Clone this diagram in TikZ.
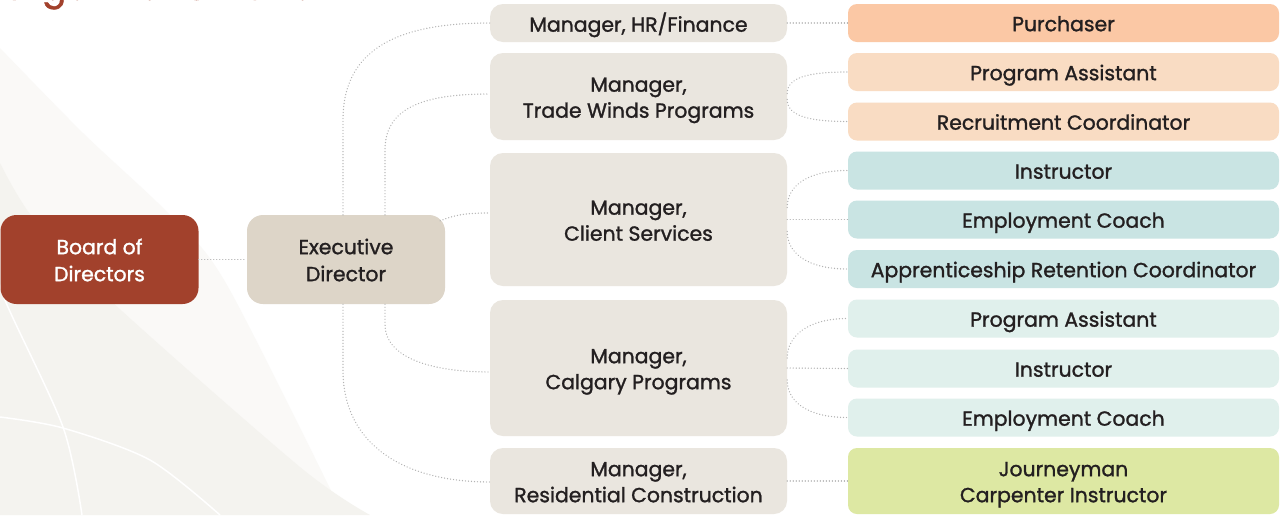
\documentclass[tikz,border=0pt]{standalone}
\usepackage{fontspec}
\setmainfont{Poppins}[FakeBold=1.3]
\usetikzlibrary{calc}
\definecolor{boardc}{HTML}{A2412C}
\definecolor{execc}{HTML}{DDD5C8}
\definecolor{mgrc}{HTML}{EAE6DF}
\definecolor{purc}{HTML}{FBC8A5}
\definecolor{orlc}{HTML}{F9DCC3}
\definecolor{tealc}{HTML}{C9E4E3}
\definecolor{teallc}{HTML}{E0F0EC}
\definecolor{greenc}{HTML}{DDE8A3}
\definecolor{txtc}{HTML}{231F20}
\definecolor{connc}{HTML}{B3B3B3}
\definecolor{bglight}{HTML}{FAF9F7}
\definecolor{bgdark}{HTML}{F4F3EF}
\newcommand{\bt}[1]{\raisebox{-3pt}[\height][\depth]{\begin{tabular}{@{}c@{}}#1\end{tabular}}}
\tikzset{
  boxfont/.style={font=\fontsize{20.4}{26}\selectfont},
  basebox/.style={inner sep=0pt, text=txtc, boxfont},
  bigbox/.style={basebox, rounded corners=16pt, minimum width=198pt, minimum height=89pt},
  mgrbox/.style={basebox, fill=mgrc, rounded corners=13pt, minimum width=297pt},
  rbox/.style={basebox, rounded corners=9pt, minimum width=431pt, minimum height=38pt},
  conn/.style={draw=connc, line width=1.4pt, dash pattern=on 0.01pt off 3pt, line cap=round},
  bgline/.style={draw=white, line width=1.5pt}
}
\begin{document}
\begin{tikzpicture}[x=1pt,y=-1pt]
\useasboundingbox (0,0) rectangle (1280,515);
\begin{scope}
\clip (0,0) rectangle (1280,515);
\fill[white] (0,0) rectangle (1280,515);
\fill[bglight] plot[smooth] coordinates {(0,48) (83,133) (170,215) (227,285) (343,515)} -- (0,515) -- cycle;
\fill[bgdark] plot[smooth] coordinates {(0,163) (33,218) (110,300) (300,467) (370,515)} -- (0,515) -- cycle;
\draw[bgline] plot[smooth] coordinates {(-8,250) (5,300) (63,427) (82,515)};
\draw[bgline] plot[smooth] coordinates {(0,417) (63,428) (150,460) (220,515)};
\node[anchor=base west, inner sep=0pt, text=boardc, font=\fontsize{36}{36}\selectfont] (title) at (0,-0.3) {Organization Chart};
\end{scope}

% left nodes
\node[bigbox, fill=boardc, text=white] (board) at (99.5,259.5) {\bt{Board of\\[1pt]Directors}};
\node[bigbox, fill=execc] (exec) at (346,259.5) {\bt{Executive\\[1pt]Director}};

% managers
\node[mgrbox, minimum height=38pt] (hr) at (638.5,23) {\bt{Manager, HR/Finance}};
\node[mgrbox, minimum height=87pt] (tw) at (638.5,96.5) {\bt{Manager,\\Trade Winds Programs}};
\node[mgrbox, minimum height=133pt] (cs) at (638.5,219.5) {\bt{Manager,\\Client Services}};
\node[mgrbox, minimum height=136pt] (cal) at (638.5,368) {\bt{Manager,\\Calgary Programs}};
\node[mgrbox, minimum height=66pt] (res) at (638.5,481) {\bt{Manager,\\Residential Construction}};

% right column
\node[rbox, fill=purc] (pur) at (1063.5,23) {\bt{Purchaser}};
\node[rbox, fill=orlc] (pa1) at (1063.5,72) {\bt{Program Assistant}};
\node[rbox, fill=orlc] (rc) at (1063.5,121.5) {\bt{Recruitment Coordinator}};
\node[rbox, fill=tealc] (in1) at (1063.5,170.5) {\bt{Instructor}};
\node[rbox, fill=tealc] (ec1) at (1063.5,219.5) {\bt{Employment Coach}};
\node[rbox, fill=tealc] (ar) at (1063.5,269) {\bt{Apprenticeship Retention Coordinator}};
\node[rbox, fill=teallc] (pa2) at (1063.5,318.5) {\bt{Program Assistant}};
\node[rbox, fill=teallc] (in2) at (1063.5,368.5) {\bt{Instructor}};
\node[rbox, fill=teallc] (ec2) at (1063.5,417.5) {\bt{Employment Coach}};
\node[rbox, fill=greenc, minimum height=66pt] (jc) at (1063.5,481) {\bt{Journeyman\\Carpenter Instructor}};

% connectors left
\draw[conn] (board) -- (exec);
\draw[conn] ([xshift=-3pt]exec.north) -- ++(0,-95) .. controls +(0,-75) and +(-85,0) .. (hr.west);
\draw[conn] ([xshift=39pt]exec.north) -- ++(0,-65) .. controls +(0,-45) and +(-60,0) .. ([yshift=2.5pt]tw.west);
\draw[conn] ([xshift=-5pt,yshift=-6pt]exec.north east) .. controls +(15,-6) and +(-25,0) .. ([yshift=6.5pt]cs.west);
\draw[conn] ([xshift=39pt]exec.south) -- ++(0,20) .. controls +(0,35) and +(-55,0) .. ([yshift=-4pt]cal.west);
\draw[conn] ([xshift=-3pt]exec.south) -- ++(0,66) .. controls +(0,75) and +(-85,0) .. ([yshift=-1pt]res.west);

% connectors right
\draw[conn] (hr) -- (pur);
\draw[conn] ([yshift=3pt]tw.east) .. controls +(0,-16) and +(-40,0) .. (pa1.west);
\draw[conn] ([yshift=-3pt]tw.east) .. controls +(0,16) and +(-40,0) .. (rc.west);
\draw[conn] ([yshift=12pt]cs.east) .. controls +(0,-22) and +(-40,0) .. (in1.west);
\draw[conn] (cs.east) -- (ec1.west);
\draw[conn] ([yshift=-12pt]cs.east) .. controls +(0,22) and +(-40,0) .. (ar.west);
\draw[conn] ([yshift=10pt]cal.east) .. controls +(0,-22) and +(-40,0) .. (pa2.west);
\draw[conn] (cal.east) -- (in2.west);
\draw[conn] ([yshift=-12pt]cal.east) .. controls +(0,22) and +(-40,0) .. (ec2.west);
\draw[conn] (res) -- (jc);
\end{tikzpicture}
\end{document}
